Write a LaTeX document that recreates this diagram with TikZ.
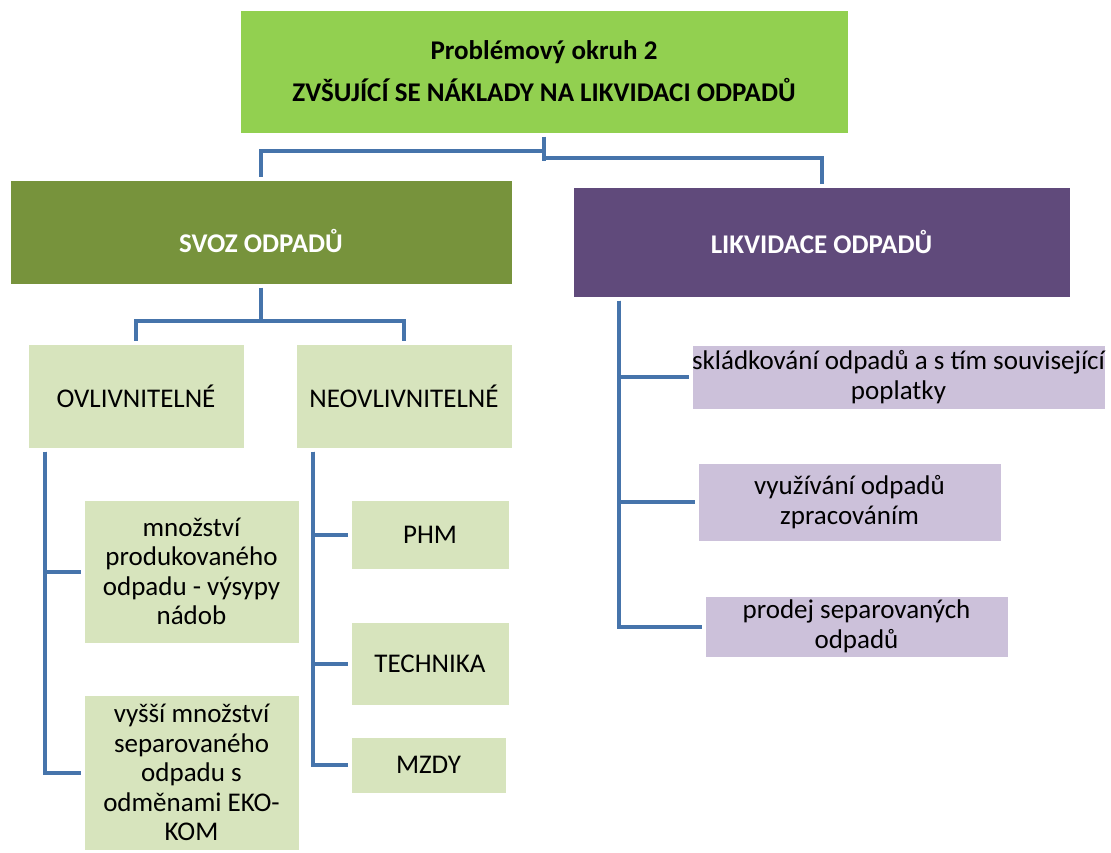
\documentclass[tikz,border=0pt]{standalone}
\usepackage{fontspec}
\setmainfont{Carlito}
\usepackage{tikz}
\usetikzlibrary{positioning,calc}
\definecolor{topgreen}{HTML}{92D050}
\definecolor{olive}{HTML}{77933C}
\definecolor{plum}{HTML}{604A7B}
\definecolor{palegreen}{HTML}{D7E4BD}
\definecolor{palelilac}{HTML}{CCC1DA}
\definecolor{linkblue}{HTML}{4674AB}

\begin{document}
\begin{tikzpicture}[
    x=1pt, y=-1pt,
    font=\fontsize{27}{29.5}\selectfont,
    box/.style={draw=white, line width=0.5pt, align=center, inner sep=0pt, outer sep=3.5pt},
    head/.style={box, fill=olive, text=white, font=\fontsize{27}{29.5}\selectfont\bfseries},
    leaf/.style={box, fill=palegreen},
    item/.style={box, fill=palelilac},
    link/.style={linkblue, line width=4pt}
]
\useasboundingbox (0,0) rectangle (1111,852);

\node[box, fill=topgreen, font=\fontsize{27}{29.5}\selectfont\bfseries, minimum width=608pt, minimum height=123pt] (top) at (544,71.5)
  {Problémový okruh 2\\[12.5pt]ZVŠUJÍCÍ SE NÁKLADY NA LIKVIDACI ODPADŮ};
\node[head, minimum width=502pt, minimum height=104pt] (svoz) at (261,232)
  {\raisebox{-9pt}[\height][\depth]{SVOZ ODPADŮ}};
\node[head, fill=plum, minimum width=497pt, minimum height=110pt] (likv) at (821.5,242) {LIKVIDACE ODPADŮ};

\node[leaf, minimum width=216pt, minimum height=104pt] (ovl) at (136,396) {OVLIVNITELNÉ};
\node[leaf, minimum width=216pt, minimum height=104pt] (neo) at (404,396) {NEOVLIVNITELNÉ};

\node[leaf, minimum width=215pt, minimum height=143pt] (mnoz) at (191.5,571.5)
  {množství\\produkovaného\\odpadu - výsypy\\nádob};
\node[leaf, minimum width=215pt, minimum height=155pt] (vyssi) at (191.5,772.5)
  {vyšší množství\\separovaného\\odpadu s\\odměnami EKO-\\KOM};

\node[leaf, minimum width=158pt, minimum height=69pt] (phm) at (430,534.5) {PHM};
\node[leaf, minimum width=158pt, minimum height=83pt] (tech) at (430,663.5) {TECHNIKA};
\node[leaf, minimum width=155pt, minimum height=56pt] (mzdy) at (428.5,765) {MZDY};

\node[item, minimum width=413pt, minimum height=64pt] (skl) at (898.5,377)
  {skládkování odpadů a s tím související\\poplatky};
\node[item, minimum width=303pt, minimum height=78pt] (vyuz) at (849.5,502)
  {využívání odpadů\\zpracováním};
\node[item, minimum width=303pt, minimum height=61pt] (prod) at (856.5,626.5)
  {prodej separovaných\\odpadů};

% top level
\draw[link] (top.south) -- ++(0,24);
\draw[link] ($(top.south)+(0,14)$) -| (svoz.north);
\draw[link] ($(top.south)+(0,21)$) -| (likv.north);

% svoz
\coordinate (sj) at ($(svoz.south)+(0,33)$);
\draw[link] (svoz.south) -- (sj);
\draw[link] (sj) -| (ovl.north);
\draw[link] (sj) -| (neo.north);

% ovlivnitelne
\coordinate (ot) at ($(ovl.south west)+(20,0)$);
\draw[link] (ot) |- (mnoz.west);
\draw[link] (ot) |- (vyssi.west);

% neovlivnitelne
\coordinate (nt) at ($(neo.south west)+(20,0)$);
\foreach \j in {phm, tech, mzdy}
  \draw[link] (nt) |- (\j.west);

% likvidace
\coordinate (lt) at ($(likv.south west)+(49,0)$);
\foreach \j in {skl, vyuz, prod}
  \draw[link] (lt) |- (\j.west);
\end{tikzpicture}
\end{document}
